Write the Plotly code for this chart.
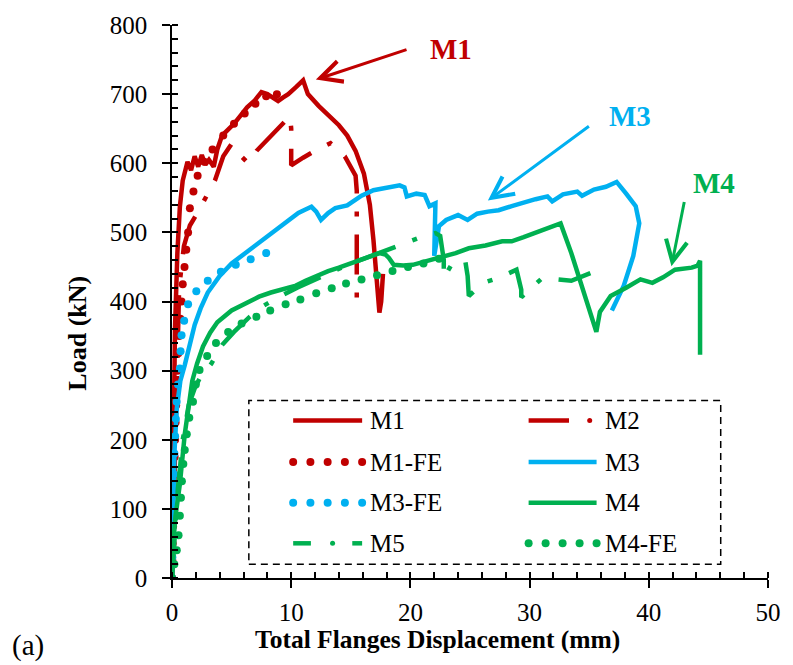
import plotly.graph_objects as go

# ---------------- data ----------------
m1_x = [0, 0.1, 0.25, 0.45, 0.66, 0.9, 1.3, 1.6, 1.9, 2.2, 2.5, 2.8, 3.1, 3.5, 3.8, 4.2, 4.7, 5.2, 5.8, 6.3,
        6.9, 7.5, 8.0, 8.4, 8.9, 9.3, 9.75, 10.4, 11.0, 11.2, 11.4, 12.3, 13.2, 14.0, 14.7, 15.4, 16.1, 16.6,
        16.9, 17.2, 17.4, 17.55, 17.7]
m1_y = [0, 150, 360, 470, 537, 575, 602, 590, 610, 595, 612, 598, 605, 595, 620, 640, 648, 657, 670, 681,
        690, 703, 700, 695, 690, 695, 700, 710, 720, 710, 700, 683, 667, 655, 640, 618, 585, 540,
        489, 430, 384, 400, 440]

m2_x = [0, 0.2, 0.4, 0.6, 1.0, 1.5, 2.1, 2.8, 3.6, 4.3, 5.0, 5.7, 6.4, 7.1, 8.3, 9.1, 9.9, 10.0, 10.0, 10.0,
        11.0, 12.0, 13.3, 14.5, 15.4, 15.5, 15.5, 15.5]
m2_y = [0, 150, 300, 420, 480, 510, 527, 550, 575, 610, 628, 612, 600, 618, 640, 655, 668, 650, 625, 597,
        608, 618, 629, 610, 582, 560, 480, 389]

m1fe_x = [0.0, 0.03, 0.06, 0.09, 0.12, 0.15, 0.18, 0.22, 0.26, 0.3, 0.35, 0.4, 0.46, 0.53, 0.6, 0.7, 0.8, 0.9,
          1.05, 1.2, 1.35, 1.5, 1.8, 2.15, 2.7, 3.4, 4.3, 5.2, 6.1, 7.0, 7.9, 8.8]
m1fe_y = [0, 25, 50, 75, 100, 125, 150, 175, 200, 225, 250, 275, 300, 325, 350, 375, 400, 425,
          450, 475, 500, 535, 559, 582, 602, 620, 640, 657, 672, 686, 697, 700]

m3_x = [0, 0.1, 0.2, 0.4, 0.7, 1.07, 1.5, 1.9, 2.4, 3.0, 4.0, 5.0, 6.3, 7.7, 8.8, 9.9, 10.6, 11.2, 11.7, 12.1,
        12.5, 13.1, 13.7, 14.7, 15.9, 16.9, 18.0, 19.1, 19.5, 19.7, 20.5, 21.2, 21.6, 22.1, 22.0, 22.4, 23.0,
        24.0, 24.8, 25.6, 26.5, 27.4, 28.5, 29.6, 30.5, 31.5, 31.9, 32.8, 34.0, 34.4, 35.4, 36.4, 37.3, 38.1,
        38.9, 39.2, 39.0, 38.7, 37.9, 36.9]
m3_y = [0, 100, 180, 245, 285, 308, 340, 366, 390, 413, 437, 455, 472, 490, 505, 518, 528, 533, 537, 530,
        518, 528, 535, 539, 553, 561, 565, 568, 565, 552, 556, 554, 538, 542, 466, 509, 518,
        525, 518, 527, 530, 532, 538, 544, 548, 552, 545, 555, 559, 553, 562, 566, 573, 556,
        538, 513, 490, 466, 423, 387]

m3fe_x = [0, 0.03, 0.06, 0.09, 0.12, 0.16, 0.2, 0.26, 0.32, 0.39, 0.5, 0.66, 0.72, 0.8, 1.02, 1.35, 2.04,
          3.0, 4.1, 5.35, 6.6, 7.9]
m3fe_y = [0, 30, 60, 90, 120, 150, 180, 205, 230, 255, 280, 303, 328, 351, 372, 396, 415,
          430, 443, 453, 461, 470]

m4_x = [0, 0.1, 0.3, 0.66, 1.07, 1.4, 1.7, 2.1, 2.6, 3.2, 3.8, 5.0, 6.3, 7.3, 8.3, 9.3, 10.4, 11.2, 12.1,
        13.1, 14.0, 15.5, 16.5, 17.4, 17.9, 18.2, 18.6, 19.4, 20.2, 21.3, 22.4, 23.0, 23.8, 24.9, 26.3,
        27.7, 28.5, 29.5, 30.4, 31.5, 32.6, 33.5, 34.6, 35.6, 35.9, 36.8, 38.1, 39.3, 40.3, 41.2, 42.2,
        43.6, 44.1, 44.3, 44.3, 44.3]
m4_y = [0, 50, 90, 136, 208, 250, 285, 310, 335, 355, 370, 387, 399, 407, 413, 418, 423, 430, 437,
        444, 449, 458, 464, 470, 468, 463, 453, 452, 453, 458, 463, 465, 470, 477, 481,
        487, 487, 493, 499, 505, 513, 470, 410, 356, 385, 408, 420, 432, 427, 435, 446,
        449, 452, 459, 400, 323]

m5_x = [0, 0.2, 0.5, 0.9, 1.4, 1.9, 2.3, 3.3, 4.2, 5.2, 6.4, 7.7, 8.9, 10.5, 12.0, 13.5, 15.0, 16.9, 17.8,
        19.2, 20.7, 22.1, 22.5, 22.8, 22.8, 23.5, 24.6, 24.8, 24.9, 26.1, 27.4, 28.9, 29.3, 29.3, 31.0,
        32.3, 33.5, 35.1]
m5_y = [0, 60, 130, 200, 250, 274, 288, 310, 337, 356, 376, 394, 406, 420, 432, 443, 455, 467, 473,
        482, 492, 499, 495, 460, 434, 455, 459, 437, 408, 427, 434, 446, 417, 406, 433,
        432, 430, 441]

m4fe_x = [0.0, 0.2, 0.4, 0.55, 0.66, 0.75, 0.83, 0.95, 1.07, 1.24, 1.45, 1.76, 2.0, 2.31, 2.95, 3.69, 4.71,
          5.84, 7.08, 8.24, 9.53, 10.77, 12.1, 13.4, 14.6, 15.9, 17.2, 18.5, 19.8, 21.1, 22.4]
m4fe_y = [0, 20, 40, 62, 90, 116, 140, 165, 185, 208, 232, 255, 280, 301, 321, 340, 356,
          368, 378, 387, 396, 403, 412, 419, 426, 432, 438, 444, 450, 455, 462]

x_ticks = [0, 10, 20, 30, 40, 50]
y_ticks = [0, 100, 200, 300, 400, 500, 600, 700, 800]

# legend rows (name, style)
legend_items = [("M1", "solid"), ("M2", "dashdot"), ("M1-FE", "dots"), ("M3", "solid"),
                ("M3-FE", "dots"), ("M4", "solid"), ("M5", "dashdot"), ("M4-FE", "dots")]

RED = "#C00000"
BLUE = "#00B0F0"
GREEN = "#00B050"
colors = {"M1": RED, "M2": RED, "M1-FE": RED, "M3": BLUE, "M3-FE": BLUE,
          "M4": GREEN, "M5": GREEN, "M4-FE": GREEN}
DASHDOT = "40px,18px,5px,18px"
FONT = "Liberation Serif"

fig = go.Figure()

def add_line(x, y, name, dash=None, width=4.5):
    fig.add_trace(go.Scatter(x=x, y=y, mode="lines", name=name, showlegend=False,
                             line=dict(color=colors[name], width=width, dash=dash or "solid")))

def add_dots(x, y, name):
    fig.add_trace(go.Scatter(x=x, y=y, mode="markers", name=name, showlegend=False,
                             marker=dict(color=colors[name], size=8, line=dict(width=0))))

add_line(m1_x, m1_y, "M1")
add_line(m2_x, m2_y, "M2", DASHDOT)
add_dots(m1fe_x, m1fe_y, "M1-FE")
add_line(m3_x, m3_y, "M3")
add_dots(m3fe_x, m3fe_y, "M3-FE")
add_line(m4_x, m4_y, "M4")
add_line(m5_x, m5_y, "M5", DASHDOT)
add_dots(m4fe_x, m4fe_y, "M4-FE")

# ---------------- layout ----------------
W, H = 793, 665
L, R, T, B = 172, 16, 20, 87
pw, ph = W - L - R, H - T - B

def px2paper(px, py):
    return (px - L) / pw, (H - B - py) / ph

shapes = []
annotations = []

# dashed legend box
x0, y0 = px2paper(250, 564)
x1, y1 = px2paper(729, 399)
shapes.append(dict(type="rect", xref="paper", yref="paper", x0=x0, y0=y0, x1=x1, y1=y1,
                   line=dict(color="black", width=1.5, dash="7px,5px"), fillcolor="rgba(0,0,0,0)"))

rows_py = [419, 461, 502, 543]
cols = [(295, 365, 371), (534, 603, 610)]
for i, (name, style) in enumerate(legend_items):
    r, c = divmod(i, 2)
    sx0, sx1, tx = cols[c]
    py = rows_py[r]
    col = colors[name]
    if style == "solid":
        a0, b0 = px2paper(sx0, py)
        a1, _ = px2paper(sx1, py)
        shapes.append(dict(type="line", xref="paper", yref="paper", x0=a0, y0=b0, x1=a1, y1=b0,
                           line=dict(color=col, width=4.5)))
    elif style == "dashdot":
        if name == "M2":
            segs = [(sx0, sx0 + 41)]
            dots = [sx0 + 62]
        else:
            segs = [(sx0, sx0 + 18), (sx0 + 60, sx1)]
            dots = [sx0 + 40]
        for s0, s1 in segs:
            a0, b0 = px2paper(s0, py)
            a1, _ = px2paper(s1, py)
            shapes.append(dict(type="line", xref="paper", yref="paper", x0=a0, y0=b0, x1=a1, y1=b0,
                               line=dict(color=col, width=4.5)))
        for d in dots:
            a, b = px2paper(d, py)
            shapes.append(dict(type="circle", xref="paper", yref="paper", xsizemode="pixel",
                               ysizemode="pixel", xanchor=a, yanchor=b, x0=-2.5, x1=2.5, y0=-2.5, y1=2.5,
                               fillcolor=col, line=dict(width=0)))
    else:
        for k in range(5):
            a, b = px2paper(sx0 + k * (sx1 - sx0) / 4, py)
            shapes.append(dict(type="circle", xref="paper", yref="paper", xsizemode="pixel",
                               ysizemode="pixel", xanchor=a, yanchor=b, x0=-4, x1=4, y0=-4, y1=4,
                               fillcolor=col, line=dict(width=0)))
    a, b = px2paper(tx, py)
    annotations.append(dict(xref="paper", yref="paper", x=a, y=b, text=name, showarrow=False,
                            xanchor="left", yanchor="middle",
                            font=dict(family=FONT, size=25, color="black")))

# callout arrows and labels (data coordinates)
callouts = [("M1", 12.07, 721, 19.8, 765, 23.4, 765),
            ("M3", 26.5, 546, 35.1, 655, 38.4, 669),
            ("M4", 41.9, 451, 43.0, 546, 45.5, 572)]
for name, hx, hy, tx_, ty_, lx, ly in callouts:
    annotations.append(dict(x=hx, y=hy, ax=tx_, ay=ty_, xref="x", yref="y", axref="x", ayref="y",
                            text="", showarrow=True, arrowhead=5, arrowsize=1.4, arrowwidth=3,
                            arrowcolor=colors[name], standoff=0, startstandoff=0))
    annotations.append(dict(x=lx, y=ly, xref="x", yref="y", text="<b>%s</b>" % name, showarrow=False,
                            xanchor="center", yanchor="middle",
                            font=dict(family=FONT, size=29, color=colors[name])))

# axis titles and panel label
a, b = px2paper(442, 640)
annotations.append(dict(xref="paper", yref="paper", x=a, y=b, text="<b>Total Flanges Displacement (mm)</b>",
                        showarrow=False, xanchor="center", yanchor="middle",
                        font=dict(family=FONT, size=25.5, color="black")))
a, b = px2paper(76, 331)
annotations.append(dict(xref="paper", yref="paper", x=a, y=b, text="<b>Load (kN)</b>", textangle=-90,
                        showarrow=False, xanchor="center", yanchor="middle",
                        font=dict(family=FONT, size=26, color="black")))
a, b = px2paper(26, 646)
annotations.append(dict(xref="paper", yref="paper", x=a, y=b, text="(a)", showarrow=False,
                        xanchor="center", yanchor="middle",
                        font=dict(family=FONT, size=29, color="black")))

axis_common = dict(showgrid=False, zeroline=False, showline=True, linecolor="black", linewidth=1.5,
                   ticks="outside", ticklen=8, tickwidth=1.5, tickcolor="black",
                   tickfont=dict(family=FONT, size=25, color="black"))
cross_common = dict(showgrid=False, zeroline=False, showline=False, showticklabels=False,
                    ticks="inside", ticklen=5, tickwidth=1.5, tickcolor="black")

fig.update_layout(
    width=W, height=H, margin=dict(l=L, r=R, t=T, b=B),
    paper_bgcolor="white", plot_bgcolor="white", showlegend=False,
    font=dict(family=FONT),
    xaxis=dict(range=[0, 50], tickvals=x_ticks, ticktext=[str(v) for v in x_ticks], ticklabelstandoff=3,
               minor=dict(dtick=2, ticks="inside", ticklen=6, tickwidth=1.5, tickcolor="black"),
               **axis_common),
    yaxis=dict(range=[0, 800], tickvals=y_ticks, ticktext=[str(v) for v in y_ticks], ticklabelstandoff=10,
               minor=dict(dtick=20, ticks="inside", ticklen=6, tickwidth=1.5, tickcolor="black"),
               **axis_common),
    xaxis2=dict(overlaying="x", anchor="y", range=[0, 50], tickvals=x_ticks, **cross_common),
    yaxis2=dict(overlaying="y", anchor="x", range=[0, 800], tickvals=y_ticks, **cross_common),
    shapes=shapes, annotations=annotations,
)

fig.write_html("out.html")
